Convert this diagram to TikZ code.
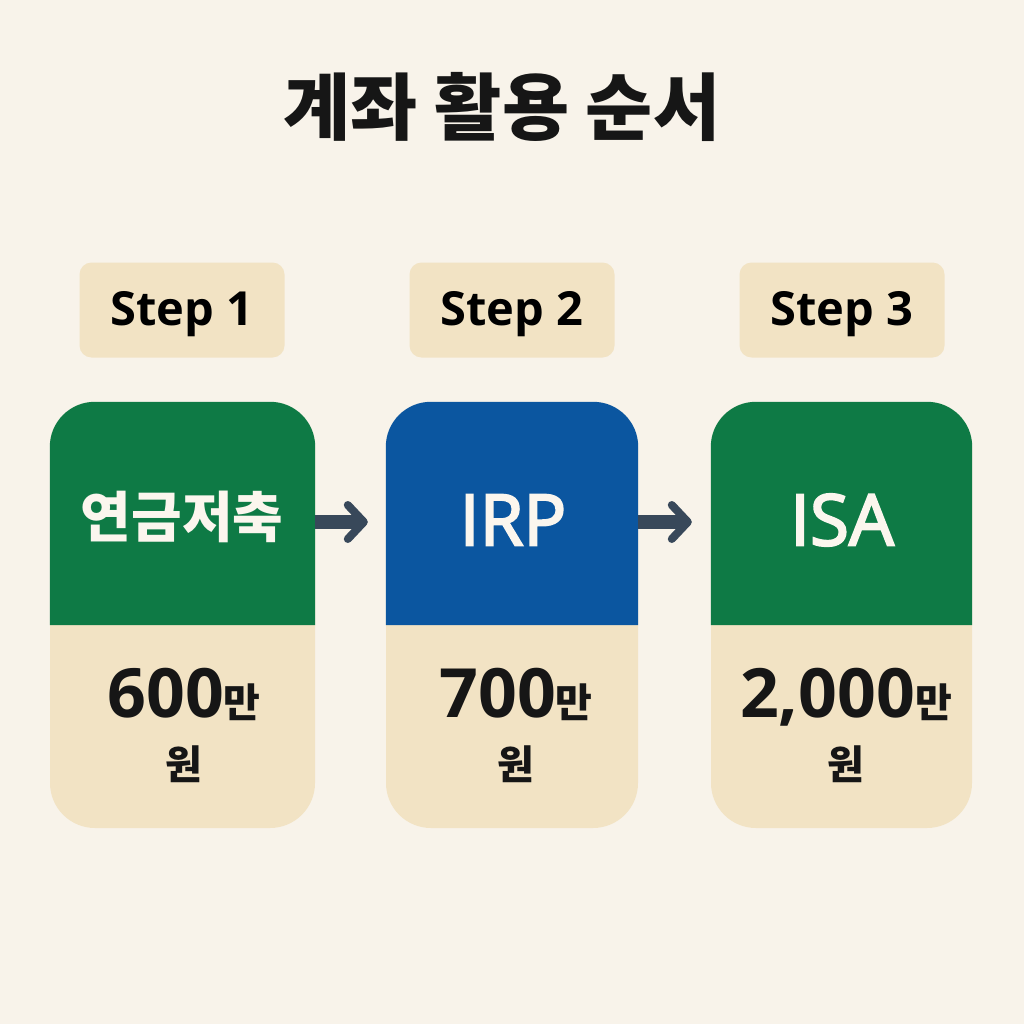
\documentclass[tikz,border=0pt]{standalone}
\usepackage{fontspec}
\setmainfont{Open Sans}
\newfontfamily\kr{Noto Sans CJK KR}
\newfontfamily\semib{Open Sans}[FakeBold=3]
\usetikzlibrary{arrows.meta,positioning,calc}

\definecolor{bgcream}{HTML}{F8F3EA}
\definecolor{boxbeige}{HTML}{F2E3C4}
\definecolor{cardgreen}{HTML}{0E7A45}
\definecolor{cardblue}{HTML}{0B56A0}
\definecolor{arrowslate}{HTML}{38485A}
\definecolor{inkdark}{HTML}{161616}
\definecolor{inklight}{HTML}{FBF6EE}

\begin{document}
\begin{tikzpicture}[x=1pt, y=-1pt,
  stepbox/.style={rectangle, rounded corners=12pt, fill=boxbeige, minimum width=205pt, minimum height=95pt, inner sep=0pt},
  steptext/.style={inner sep=0pt, font=\bfseries\fontsize{47}{56}\selectfont},
  card/.style={rectangle, rounded corners=45pt, fill=boxbeige, minimum height=426pt, inner sep=0pt},
  cardname/.style={text=inklight, inner sep=0pt},
  amount/.style={text=inkdark, align=center, inner sep=0pt, font=\kr\bfseries\fontsize{40}{62}\selectfont},
  flow/.style={arrowslate, line width=14pt, -{Straight Barb[length=16pt, width=34pt, line width=8pt, line cap=round, line join=round]}}]
  \useasboundingbox (0,0) rectangle (1024,1024);
  \fill[bgcream] (0,0) rectangle (1024,1024);

  % title
  \node[text=inkdark, inner sep=0pt] (title) at (502,107) {\kr\bfseries\fontsize{73}{88}\selectfont 계좌 활용 순서};

  % step labels
  \node[stepbox] (s1) at (182,310) {};
  \node[stepbox] (s2) at (512,310) {};
  \node[stepbox] (s3) at (842,310) {};
  \node[steptext] (t1) at ([yshift=-4pt]s1) {Step 1};
  \node[steptext] (t2) at ([yshift=-4pt]s2) {Step 2};
  \node[steptext] (t3) at ([yshift=-4pt]s3) {Step 3};

  % cards
  \node[card, minimum width=265pt] (c1) at (182.5,615) {};
  \node[card, minimum width=252pt] (c2) at (512,615) {};
  \node[card, minimum width=261pt] (c3) at (841.5,615) {};
  \fill[cardgreen] ([yshift=-10pt]c1.west) [rounded corners=45pt] -- (c1.north west) -- (c1.north east) [sharp corners] -- ([yshift=-10pt]c1.east) -- cycle;
  \fill[cardblue] ([yshift=-10pt]c2.west) [rounded corners=45pt] -- (c2.north west) -- (c2.north east) [sharp corners] -- ([yshift=-10pt]c2.east) -- cycle;
  \fill[cardgreen] ([yshift=-10pt]c3.west) [rounded corners=45pt] -- (c3.north west) -- (c3.north east) [sharp corners] -- ([yshift=-10pt]c3.east) -- cycle;

  \node[cardname] (n1) at (182,517) {\kr\bfseries\fontsize{55}{66}\selectfont 연금저축};
  \node[cardname] (n2) at (513,520) {\semib\fontsize{71}{84}\selectfont IRP};
  \node[cardname] (n3) at (842,520) {\semib\fontsize{71}{84}\selectfont ISA};

  \node[amount] (a1) at (184,725) {{\rmfamily\bfseries\fontsize{68}{62}\selectfont 600}만\\원};
  \node[amount] (a2) at (516,725) {{\rmfamily\bfseries\fontsize{68}{62}\selectfont 700}만\\원};
  \node[amount] (a3) at (846,725) {{\rmfamily\bfseries\fontsize{68}{62}\selectfont 2,000}만\\원};

  % connectors
  \draw[flow] ([yshift=93pt]c1.east) -- ([yshift=93pt, xshift=-18pt]c2.west);
  \draw[flow] ([yshift=93pt]c2.east) -- ([yshift=93pt, xshift=-19pt]c3.west);
\end{tikzpicture}
\end{document}
